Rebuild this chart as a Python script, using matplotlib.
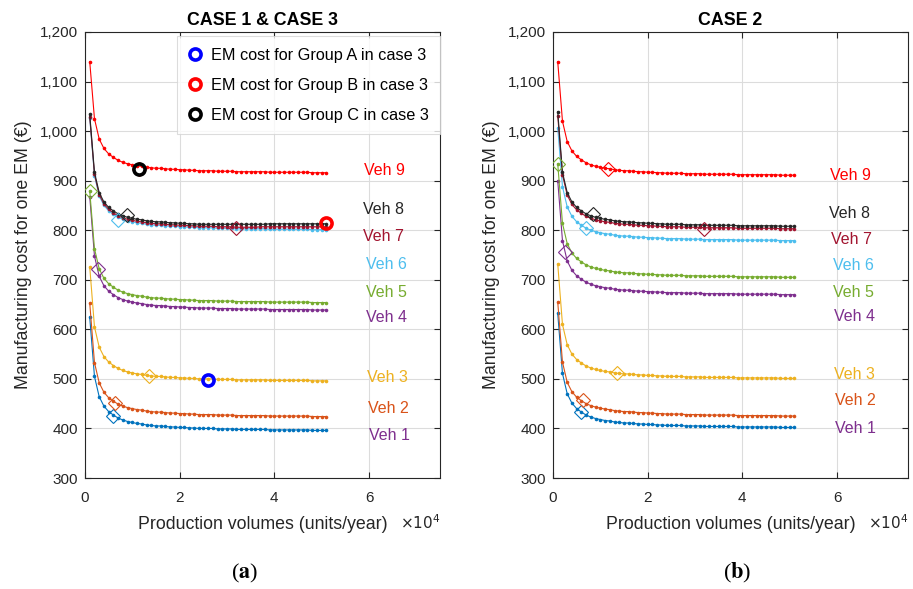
import matplotlib
matplotlib.use("Agg")
import matplotlib.pyplot as plt
from matplotlib.lines import Line2D
from matplotlib.ticker import FuncFormatter, FixedLocator

plt.rcParams['font.family'] = ['Liberation Sans', 'DejaVu Sans']

# ---------------- data ----------------
volumes = [1000, 2000, 3000, 4000, 5000, 6000, 7000, 8000, 9000, 10000,
           11000, 12000, 13000, 14000, 15000, 16000, 17000, 18000, 19000, 20000,
           21000, 22000, 23000, 24000, 25000, 26000, 27000, 28000, 29000, 30000,
           31000, 32000, 33000, 34000, 35000, 36000, 37000, 38000, 39000, 40000,
           41000, 42000, 43000, 44000, 45000, 46000, 47000, 48000, 49000, 50000,
           51000]

vehicles = ['Veh 1', 'Veh 2', 'Veh 3', 'Veh 4', 'Veh 5', 'Veh 6', 'Veh 7', 'Veh 8', 'Veh 9']

# CASE 1 & CASE 3
c13_veh1 = [624, 505, 464, 445, 434, 427, 421, 417, 414, 412, 410,
            409, 407, 406, 405, 405, 404, 403, 403, 402, 402,
            401, 401, 400, 400, 400, 400, 399, 399, 399, 399,
            398, 398, 398, 398, 398, 398, 398, 397, 397, 397,
            397, 397, 397, 397, 397, 397, 396, 396, 396, 396]
c13_veh2 = [653, 533, 492, 473, 462, 455, 449, 445, 442, 440, 438,
            437, 435, 434, 433, 433, 432, 431, 431, 430, 430,
            429, 429, 428, 428, 428, 428, 427, 427, 427, 427,
            426, 426, 426, 426, 426, 426, 426, 425, 425, 425,
            425, 425, 425, 425, 425, 425, 424, 424, 424, 424]
c13_veh3 = [726, 605, 564, 545, 534, 527, 521, 517, 514, 512, 510,
            509, 507, 506, 505, 505, 504, 503, 503, 502, 502,
            501, 501, 500, 500, 500, 500, 499, 499, 499, 499,
            498, 498, 498, 498, 498, 498, 498, 497, 497, 497,
            497, 497, 497, 497, 497, 497, 496, 496, 496, 496]
c13_veh4 = [868, 748, 707, 688, 677, 670, 664, 660, 657, 655, 653,
            652, 650, 649, 648, 648, 647, 646, 646, 645, 645,
            644, 644, 643, 643, 643, 643, 642, 642, 642, 642,
            641, 641, 641, 641, 641, 641, 641, 640, 640, 640,
            640, 640, 640, 640, 640, 640, 639, 639, 639, 639]
c13_veh5 = [879, 763, 722, 703, 692, 685, 679, 675, 672, 670, 668,
            667, 665, 664, 663, 663, 662, 661, 661, 660, 660,
            659, 659, 658, 658, 658, 658, 657, 657, 657, 657,
            656, 656, 656, 656, 656, 656, 656, 655, 655, 655,
            655, 655, 655, 655, 655, 655, 654, 654, 654, 654]
c13_veh6 = [1027, 910, 869, 850, 839, 832, 826, 822, 819, 817, 815,
            814, 812, 811, 810, 810, 809, 808, 808, 807, 807,
            806, 806, 805, 805, 805, 805, 804, 804, 804, 804,
            803, 803, 803, 803, 803, 803, 803, 802, 802, 802,
            802, 802, 802, 802, 802, 802, 801, 801, 801, 801]
c13_veh7 = [1029, 913, 872, 853, 842, 835, 829, 825, 822, 820, 818,
            817, 815, 814, 813, 813, 812, 811, 811, 810, 810,
            809, 809, 808, 808, 808, 808, 807, 807, 807, 807,
            806, 806, 806, 806, 806, 807, 807, 807, 807, 807,
            807, 807, 807, 807, 807, 807, 807, 807, 807, 807]
c13_veh8 = [1034, 917, 876, 857, 846, 839, 833, 829, 826, 824, 822,
            821, 819, 818, 817, 817, 816, 815, 815, 814, 814,
            813, 813, 812, 812, 812, 812, 812, 812, 812, 812,
            812, 812, 812, 812, 812, 812, 812, 813, 813, 813,
            813, 813, 813, 813, 813, 813, 813, 813, 813, 813]
c13_veh9 = [1140, 1025, 984, 965, 954, 947, 941, 937, 934, 932, 930,
            929, 927, 926, 925, 925, 924, 923, 923, 922, 922,
            921, 921, 920, 920, 920, 920, 919, 919, 919, 919,
            918, 918, 918, 918, 918, 918, 918, 917, 917, 917,
            917, 917, 917, 917, 917, 917, 916, 916, 916, 916]

# CASE 2
c2_veh1 = [632, 511, 470, 451, 440, 433, 427, 423, 420, 418, 416,
           415, 413, 412, 411, 411, 410, 409, 409, 408, 408,
           407, 407, 406, 406, 406, 406, 405, 405, 405, 405,
           404, 404, 404, 404, 404, 404, 404, 403, 403, 403,
           403, 403, 403, 403, 403, 403, 402, 402, 402, 402]
c2_veh2 = [655, 534, 493, 474, 463, 456, 450, 446, 443, 441, 439,
           438, 436, 435, 434, 434, 433, 432, 432, 431, 431,
           430, 430, 429, 429, 429, 429, 428, 428, 428, 428,
           427, 427, 427, 427, 427, 427, 427, 426, 426, 426,
           426, 426, 426, 426, 426, 426, 425, 425, 425, 425]
c2_veh3 = [732, 610, 569, 550, 539, 532, 526, 522, 519, 517, 515,
           514, 512, 511, 510, 510, 509, 508, 508, 507, 507,
           506, 506, 505, 505, 505, 505, 504, 504, 504, 504,
           503, 503, 503, 503, 503, 503, 503, 502, 502, 502,
           502, 502, 502, 502, 502, 502, 501, 501, 501, 501]
c2_veh4 = [900, 779, 738, 719, 708, 701, 695, 691, 688, 686, 684,
           683, 681, 680, 679, 679, 678, 677, 677, 676, 676,
           675, 675, 674, 674, 674, 674, 673, 673, 673, 673,
           672, 672, 672, 672, 672, 672, 672, 671, 671, 671,
           671, 671, 671, 671, 671, 671, 670, 670, 670, 670]
c2_veh5 = [934, 814, 773, 754, 743, 736, 730, 726, 723, 721, 719,
           718, 716, 715, 714, 714, 713, 712, 712, 711, 711,
           710, 710, 709, 709, 709, 709, 708, 708, 708, 708,
           707, 707, 707, 707, 707, 707, 707, 706, 706, 706,
           706, 706, 706, 706, 706, 706, 705, 705, 705, 705]
c2_veh6 = [1007, 888, 847, 828, 817, 810, 804, 800, 797, 795, 793,
           792, 790, 789, 788, 788, 787, 786, 786, 785, 785,
           784, 784, 783, 783, 783, 783, 782, 782, 782, 782,
           781, 781, 781, 781, 781, 781, 781, 780, 780, 780,
           780, 780, 780, 780, 780, 780, 779, 779, 779, 779]
c2_veh7 = [1031, 912, 871, 852, 841, 834, 828, 824, 821, 819, 817,
           816, 814, 813, 812, 812, 811, 810, 810, 809, 809,
           808, 808, 807, 807, 807, 807, 806, 806, 806, 806,
           805, 805, 805, 805, 805, 805, 805, 804, 804, 804,
           804, 804, 804, 804, 804, 804, 803, 803, 803, 803]
c2_veh8 = [1039, 917, 876, 857, 846, 839, 833, 829, 826, 824, 822,
           821, 819, 818, 817, 817, 816, 815, 815, 814, 814,
           813, 813, 812, 812, 812, 812, 811, 811, 811, 811,
           810, 810, 810, 810, 810, 810, 810, 809, 809, 809,
           809, 809, 809, 809, 809, 809, 808, 808, 808, 808]
c2_veh9 = [1140, 1020, 979, 960, 949, 942, 936, 932, 929, 927, 925,
           924, 922, 921, 920, 920, 919, 918, 918, 917, 917,
           916, 916, 915, 915, 915, 915, 914, 914, 914, 914,
           913, 913, 913, 913, 913, 913, 913, 912, 912, 912,
           912, 912, 912, 912, 912, 912, 911, 911, 911, 911]

# diamond markers (one per vehicle, order Veh 1..Veh 9)
c13_diamond_x = [6000, 6300, 13600, 2700, 1000, 7000, 31900, 8800, 11500]
c13_diamond_y = [425, 452, 505, 722, 880, 820, 804, 830, 923]
c2_diamond_x = [6000, 6300, 13500, 2500, 1000, 6900, 31800, 8500, 11600]
c2_diamond_y = [434, 458, 512, 757, 934, 804, 802, 833, 924]

# case 3 group EM costs
group_labels = ['EM cost for Group A in case 3', 'EM cost for Group B in case 3',
                'EM cost for Group C in case 3']
group_x = [26000, 51000, 11500]
group_y = [497, 814, 924]

# vehicle name label anchors (left edge x, centre y)
c13_label_x = [60000, 59800, 59600, 59400, 59400, 59400, 58700, 58700, 58900]
c13_label_y = [385, 440, 502, 623, 674, 730, 787, 841, 920]
c2_label_x = [59600, 59600, 59400, 59400, 59200, 59200, 58700, 58300, 58500]
c2_label_y = [399, 456, 508, 625, 674, 728, 781, 833, 910]

y_ticks = [300, 400, 500, 600, 700, 800, 900, 1000, 1100, 1200]
x_ticks = [0, 20000, 40000, 60000]

# ---------------- style ----------------
line_colors = ['#0072BD', '#D95319', '#EDB120', '#7E2F8E', '#77AC30',
               '#4DBEEE', '#A2142F', '#262626', '#FF0000']
label_colors = ['#7E2F8E', '#D95319', '#EDB120', '#7E2F8E', '#77AC30',
                '#4DBEEE', '#A2142F', '#262626', '#FF0000']
group_colors = ['#0000FF', '#FF0000', '#000000']

W, H = 913, 589
fig = plt.figure(figsize=(W / 100, H / 100), dpi=100)

ax_left = fig.add_axes([85 / W, 1 - 478 / H, 355 / W, 446 / H])
ax_right = fig.add_axes([553 / W, 1 - 478 / H, 355 / W, 446 / H])

c13_series = [c13_veh1, c13_veh2, c13_veh3, c13_veh4, c13_veh5,
              c13_veh6, c13_veh7, c13_veh8, c13_veh9]
c2_series = [c2_veh1, c2_veh2, c2_veh3, c2_veh4, c2_veh5,
             c2_veh6, c2_veh7, c2_veh8, c2_veh9]


def style_axes(ax, title):
    ax.set_xlim(0, 75000)
    ax.set_ylim(300, 1200)
    ax.xaxis.set_major_locator(FixedLocator(x_ticks))
    ax.yaxis.set_major_locator(FixedLocator(y_ticks))
    ax.xaxis.set_major_formatter(FuncFormatter(lambda v, p: f"{v / 10000:g}"))
    ax.yaxis.set_major_formatter(FuncFormatter(lambda v, p: f"{int(v):,}"))
    ax.grid(True, color='#dcdcdc', linewidth=0.8)
    ax.set_axisbelow(True)
    ax.tick_params(direction='in', top=True, right=True, length=4,
                   labelsize=11, colors='#262626', width=0.8)
    ax.tick_params(axis='x', pad=9)
    ax.tick_params(axis='y', pad=5)
    for s in ax.spines.values():
        s.set_color('#262626')
        s.set_linewidth(0.8)
    ax.set_title(title, fontsize=12.8, fontweight='bold', pad=5, color='#000000')
    ax.set_xlabel('Production volumes (units/year)', fontsize=12.8, color='#262626', labelpad=8)
    ax.set_ylabel('Manufacturing cost for one EM (€)', fontsize=12.8, color='#262626', labelpad=6)
    ax.text(1.0, -0.101, r'$\times10^{4}$', transform=ax.transAxes, fontsize=11,
            color='#262626', ha='right', va='center')


def draw_panel(ax, series, dx, dy, label_x, label_y):
    for i, vals in enumerate(series):
        ax.plot(volumes, vals, '-', color=line_colors[i], linewidth=0.8,
                marker='o', markersize=2.6, markeredgewidth=0, zorder=3)
        ax.plot([dx[i]], [dy[i]], linestyle='none', marker='D', markersize=7,
                markerfacecolor='none', markeredgecolor=line_colors[i],
                markeredgewidth=0.8, zorder=4)
        ax.text(label_x[i], label_y[i], vehicles[i], color=label_colors[i],
                fontsize=11.5, ha='left', va='center')


draw_panel(ax_left, c13_series, c13_diamond_x, c13_diamond_y, c13_label_x, c13_label_y)
draw_panel(ax_right, c2_series, c2_diamond_x, c2_diamond_y, c2_label_x, c2_label_y)

handles = []
for i in range(3):
    ax_left.plot([group_x[i]], [group_y[i]], linestyle='none', marker='o',
                 markersize=8, markerfacecolor='none', markeredgecolor=group_colors[i],
                 markeredgewidth=2.6, zorder=5)
    handles.append(Line2D([], [], linestyle='none', marker='o', markersize=8,
                          markerfacecolor='none', markeredgecolor=group_colors[i],
                          markeredgewidth=2.6))

leg = ax_left.legend(handles, group_labels, loc='upper right',
                     bbox_to_anchor=(1.0, 0.99), fontsize=11.7,
                     frameon=True, fancybox=False, edgecolor='#d4d4d4',
                     borderaxespad=0.0, handlelength=0.8, handletextpad=0.55,
                     labelspacing=0.92, borderpad=0.7)
leg.get_frame().set_linewidth(0.8)

style_axes(ax_left, 'CASE 1 & CASE 3')
style_axes(ax_right, 'CASE 2')

fig.text(245 / W, 1 - 573 / H, r'($\mathbf{a}$)', fontsize=16, family='Liberation Serif',
         math_fontfamily='stix', ha='center', va='center')
fig.text(737 / W, 1 - 573 / H, r'($\mathbf{b}$)', fontsize=16, family='Liberation Serif',
         math_fontfamily='stix', ha='center', va='center')

fig.savefig('out.png', dpi=100)
